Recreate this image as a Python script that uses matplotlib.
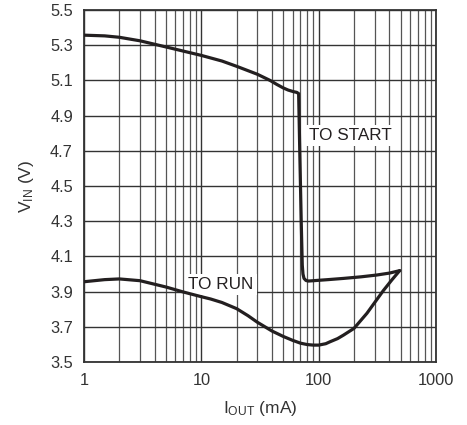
import matplotlib
matplotlib.use("Agg")
import matplotlib.pyplot as plt
from matplotlib.ticker import FixedLocator, NullFormatter

# ---- data ----
start_x = [1, 1.5, 2, 3, 5, 10, 15, 20, 30, 38.5, 44, 50, 55, 61, 65, 67.5, 69, 71, 72.5, 73.5, 75, 78, 82, 120, 163, 230, 311, 400, 490]
start_y = [5.357, 5.353, 5.345, 5.325, 5.29, 5.242, 5.21, 5.18, 5.135, 5.10, 5.077, 5.057, 5.045, 5.036, 5.032, 5.025, 4.7, 4.3, 4.05, 4.0, 3.975, 3.963, 3.96, 3.968, 3.975, 3.984, 3.994, 4.005, 4.019]
run_x = [1, 1.5, 2, 3, 5, 7, 10, 12, 15, 20, 25, 30, 40, 50, 60, 70, 80, 90, 100, 115, 125, 145, 163, 200, 258, 311, 355, 420, 490]
run_y = [3.956, 3.968, 3.972, 3.962, 3.926, 3.898, 3.871, 3.858, 3.838, 3.803, 3.763, 3.726, 3.676, 3.645, 3.623, 3.607, 3.599, 3.596, 3.596, 3.604, 3.615, 3.633, 3.653, 3.691, 3.777, 3.852, 3.905, 3.966, 4.019]
x_ticks = [1, 10, 100, 1000]
x_ticklabels = ["1", "10", "100", "1000"]
y_ticks = [3.5, 3.7, 3.9, 4.1, 4.3, 4.5, 4.7, 4.9, 5.1, 5.3, 5.5]
y_ticklabels = ["3.5", "3.7", "3.9", "4.1", "4.3", "4.5", "4.7", "4.9", "5.1", "5.3", "5.5"]
label_start = "TO START"
label_run = "TO RUN"

font = "Liberation Sans"
plt.rcParams['font.family'] = [font, 'DejaVu Sans']
plt.rcParams['mathtext.fontset'] = 'custom'
plt.rcParams['mathtext.rm'] = font
plt.rcParams['mathtext.it'] = font

fig = plt.figure(figsize=(4.67, 4.25), dpi=100)
ax = fig.add_axes([84/467, 1-362/425, 352/467, 352/425])

ax.set_xscale('log')
ax.set_xlim(1, 1000)
ax.set_ylim(3.5, 5.5)

minors = [m * 10**d for d in range(3) for m in range(2, 10)]
ax.xaxis.set_major_locator(FixedLocator(x_ticks))
ax.xaxis.set_minor_locator(FixedLocator(minors))
ax.xaxis.set_minor_formatter(NullFormatter())
ax.set_xticks(x_ticks)
ax.set_xticklabels(x_ticklabels)
ax.set_yticks(y_ticks)
ax.set_yticklabels(y_ticklabels)

ax.tick_params(which='both', length=0, labelsize=11.8, colors='#333333', pad=8)
ax.grid(which='major', axis='both', color='#333333', lw=1.0)
ax.grid(which='minor', axis='x', color='#555555', lw=0.9)
ax.set_axisbelow(True)
for s in ax.spines.values():
    s.set_color('#333333')
    s.set_linewidth(1.3)

lc = '#231f20'
ax.plot(start_x, start_y, color=lc, lw=2.3, solid_joinstyle='round', solid_capstyle='round', zorder=3)
ax.plot(run_x, run_y, color=lc, lw=2.3, solid_joinstyle='round', solid_capstyle='round', zorder=3)

bb = dict(facecolor='white', edgecolor='none', pad=2.5)
ax.text(83, 4.761, label_start, fontsize=12.3, color='#231f20',
        ha='left', va='baseline', bbox=bb, zorder=2)
ax.text(7.75, 3.915, label_run, fontsize=12.3, color='#231f20',
        ha='left', va='baseline', bbox=bb, zorder=2)

fig.text(27/467, 1-186/425, r'V$_{\mathrm{IN}}$ (V)', fontsize=12.5,
         color='#333333', rotation=90, ha='center', va='center')
fig.text(260/467, 1-408/425, r'I$_{\mathrm{OUT}}$ (mA)', fontsize=12.5,
         color='#333333', ha='center', va='center')

fig.savefig('out.png', dpi=100)
